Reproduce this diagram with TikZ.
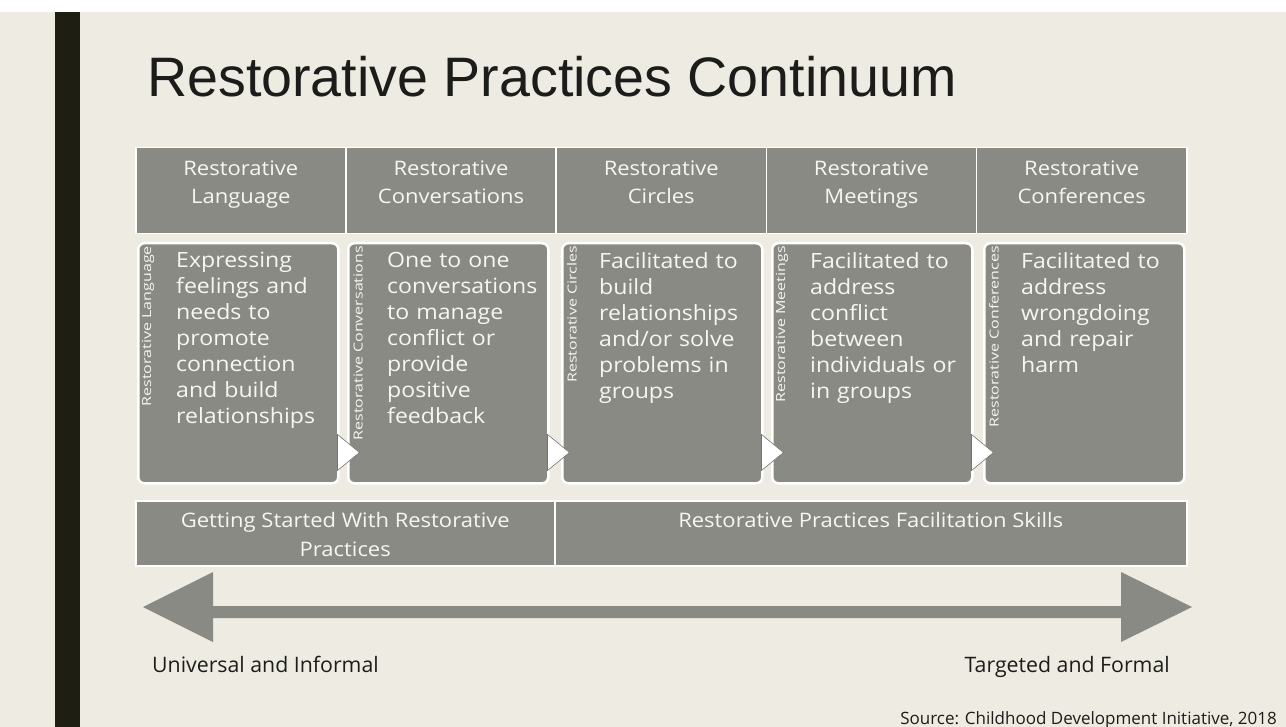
\documentclass[tikz,border=0pt]{standalone}
\usepackage{fontspec}
\setmainfont{Open Sans}
\newfontfamily\titlefont{Liberation Sans}
\newfontfamily\boxfont[FakeStretch=1.1]{Open Sans}
\newfontfamily\sidefont[FakeStretch=1.28]{Open Sans}
\usetikzlibrary{calc}
\definecolor{pagebg}{HTML}{EEEBE3}
\definecolor{boxgray}{HTML}{8A8A84}
\definecolor{boxtext}{HTML}{F6F6F3}
\definecolor{inkdark}{HTML}{1C1C1A}
\definecolor{barblack}{HTML}{1E1E12}

\begin{document}
\begin{tikzpicture}[x=1pt,y=-1pt,
  cell/.style={fill=boxgray, draw=white, line width=1.5pt, inner sep=0pt, anchor=north west, minimum height=86pt},
  card/.style={fill=boxgray, draw=white, line width=2.5pt, rounded corners=6pt, inner sep=0pt,
    anchor=north west, minimum width=200pt, minimum height=240pt},
  headtext/.style={text=boxtext, font=\boxfont\fontsize{20}{28}\selectfont, align=center, inner sep=0pt, anchor=north},
  bodytext/.style={text=boxtext, font=\boxfont\fontsize{21}{26}\selectfont, align=left, text width=178pt,
    inner sep=0pt, anchor=north west},
  sidetext/.style={text=boxtext, font=\sidefont\fontsize{12.5}{14}\selectfont, rotate=90, inner sep=0pt, anchor=east},
  bartext/.style={text=boxtext, font=\boxfont\fontsize{20}{29}\selectfont, align=center, inner sep=0pt, anchor=north},
  foottext/.style={text=inkdark, font=\fontsize{21.3}{24}\selectfont, inner sep=0pt},
  chevron/.style={fill=white, draw=boxgray!85!black, line width=0.6pt, line join=miter}
]
\useasboundingbox (0,0) rectangle (1286,727);

% page background, white top strip and the dark side bar
\fill[pagebg] (0,0) rectangle (1286,727);
\fill[white] (0,0) rectangle (1286,12);
\fill[barblack] (55,12) rectangle (80,727);

% title
\node[font=\titlefont\fontsize{55.6}{60}\selectfont, text=inkdark, inner sep=0pt, anchor=base west]
  (title) at (147,97) {Restorative Practices Continuum};

% header row
\foreach \i/\a/\b in {1/Restorative/Language, 2/Restorative/Conversations, 3/Restorative/Circles,
                      4/Restorative/Meetings, 5/Restorative/Conferences}{
  \node[cell, minimum width=210.2pt] (h\i) at ({135+(\i-1)*210.2},147) {};
  \node[headtext] (ht\i) at ($(h\i.north)+(0,14)$) {\a\\\b};
}

% cards with description texts
\node[card] (c1) at (137,242) {};
\node[card] (c2) at (347,242) {};
\node[card] (c3) at (561,242) {};
\node[card] (c4) at (771,242) {};
\node[card] (c5) at (983,242) {};

\node[bodytext] (t1) at ($(c1.north west)+(39,10)$)
  {Expressing\\feelings and\\needs to\\promote\\connection\\and build\\relationships};
\node[bodytext] (t2) at ($(c2.north west)+(40,10)$)
  {One to one\\conversations\\to manage\\conflict or\\provide\\positive\\feedback};
\node[bodytext] (t3) at ($(c3.north west)+(38,10)$)
  {Facilitated to\\build\\relationships\\and/or solve\\problems in\\groups};
\node[bodytext] (t4) at ($(c4.north west)+(39,10)$)
  {Facilitated to\\address\\conflict\\between\\individuals or\\in groups};
\node[bodytext] (t5) at ($(c5.north west)+(38,10)$)
  {Facilitated to\\address\\wrongdoing\\and repair\\harm};

% rotated side labels
\node[sidetext] (s1) at ($(c1.north west)+(11,4)$) {Restorative Language};
\node[sidetext] (s2) at ($(c2.north west)+(11,4)$) {Restorative Conversations};
\node[sidetext] (s3) at ($(c3.north west)+(11,4)$) {Restorative Circles};
\node[sidetext] (s4) at ($(c4.north west)+(11,4)$) {Restorative Meetings};
\node[sidetext] (s5) at ($(c5.north west)+(11,4)$) {Restorative Conferences};

% white chevrons between the cards
\foreach \i in {1,...,4}{
  \draw[chevron] ($(c\i.south east)+(-2,-50)$) -- ($(c\i.south east)+(20,-32)$)
                 -- ($(c\i.south east)+(-2,-14)$) -- cycle;
}

% lower band
\node[cell, minimum width=419pt, minimum height=65pt] (b1) at (135,500) {};
\node[cell, minimum width=632pt, minimum height=65pt] (b2) at (554,500) {};
\node[bartext] (bt1) at ($(b1.north)+(0,12)$) {Getting Started With Restorative\\Practices};
\node[bartext] (bt2) at ($(b2.north)+(0,12)$) {Restorative Practices Facilitation Skills};

% double-headed continuum arrow
\fill[boxgray] (143,607) -- (213,572) -- (213,606) -- (1121,606) -- (1121,572) -- (1192,607)
  -- (1121,642) -- (1121,618) -- (213,618) -- (213,642) -- cycle;

% end labels and source line
\node[foottext, anchor=base west] (left) at (152,672) {Universal and Informal};
\node[foottext, anchor=base east] (right) at (1170,672) {Targeted and Formal};
\node[foottext, font=\fontsize{17}{19}\selectfont, anchor=base east] (src) at (1277,724)
  {Source: Childhood Development Initiative, 2018};
\end{tikzpicture}
\end{document}
